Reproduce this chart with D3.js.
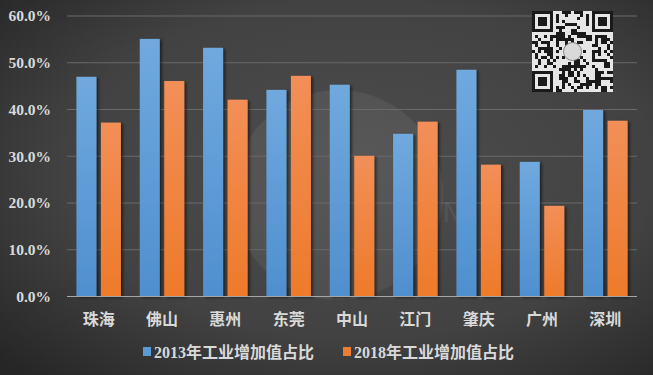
<!DOCTYPE html>
<html>
<head>
<meta charset="utf-8">
<script src="https://cdn.jsdelivr.net/npm/d3@7"></script>
<style>
    body { margin: 0; background: #333; }
    svg { display: block; }
    .tick-label { font-family: "Liberation Serif", "Times New Roman", serif; font-weight: bold; fill: #d9d9d9; }
    .cat-label { font-family: "Noto Sans CJK SC", serif; font-weight: bold; fill: #d9d9d9; }
    .legend-label { font-family: "Liberation Serif", "Noto Sans CJK SC", serif; font-weight: bold; fill: #d9d9d9; }
</style>
</head>
<body>
<svg id="chart" width="653" height="375"></svg>
<script>

const cities = ["珠海", "佛山", "惠州", "东莞", "中山", "江门", "肇庆", "广州", "深圳"];
const share2013 = [47.0, 55.1, 53.2, 44.2, 45.3, 34.8, 48.5, 28.8, 39.9];
const share2018 = [37.2, 46.1, 42.1, 47.2, 30.1, 37.4, 28.2, 19.4, 37.6];
const seriesNames = ["2013年工业增加值占比", "2018年工业增加值占比"];
const yTicks = [0, 10, 20, 30, 40, 50, 60];

const svg = d3.select("#chart");
const width = 653, height = 375;
const margin = {left: 67, right: 16, top: 16, bottom: 78};

let defs = svg.append("defs");

let bg = defs.append("radialGradient")
    .attr("id", "bg")
    .attr("cx", "0.55").attr("cy", "0.45").attr("r", "0.75");
bg.append("stop").attr("offset", "0").attr("stop-color", "#4d4d4d");
bg.append("stop").attr("offset", "0.6").attr("stop-color", "#424242");
bg.append("stop").attr("offset", "1").attr("stop-color", "#262626");

let makeBarGrad = (id, top, bottom) => {
    let g = defs.append("linearGradient")
        .attr("id", id)
        .attr("x1", 0).attr("y1", 0).attr("x2", 0).attr("y2", 1);
    g.append("stop").attr("offset", "0").attr("stop-color", top);
    g.append("stop").attr("offset", "1").attr("stop-color", bottom);
};
makeBarGrad("blue", "#70a9de", "#4f8fcf");
makeBarGrad("orange", "#f28f58", "#ee7a2a");

let shadow = defs.append("filter")
    .attr("id", "shadow")
    .attr("x", "-30%").attr("y", "-10%").attr("width", "170%").attr("height", "130%");
shadow.append("feDropShadow")
    .attr("dx", 2).attr("dy", 1).attr("stdDeviation", 1.6)
    .attr("flood-color", "#000").attr("flood-opacity", 0.55);

svg.append("rect")
    .attr("width", width).attr("height", height)
    .attr("fill", "url(#bg)");

// faint watermark logo
let wm = svg.append("g").attr("opacity", 0.06);
wm.append("circle")
    .attr("cx", 338).attr("cy", 195).attr("r", 105)
    .attr("fill", "#ffffff");
wm.append("text")
    .attr("x", 338).attr("y", 190)
    .attr("text-anchor", "middle")
    .style("font-family", "DejaVu Sans").style("font-size", "26px").style("letter-spacing", "14px")
    .attr("fill", "#ffffff")
    .text("URBAN");
wm.append("text")
    .attr("x", 338).attr("y", 222)
    .attr("text-anchor", "middle")
    .style("font-family", "DejaVu Sans").style("font-size", "26px").style("letter-spacing", "14px")
    .attr("fill", "#ffffff")
    .text("EVOLUTION");

const x = d3.scaleBand()
    .domain(cities)
    .range([margin.left, width - margin.right]);

const y = d3.scaleLinear()
    .domain([0, 60])
    .range([height - margin.bottom - 0.5, margin.top]);

// gridlines
svg.append("g")
    .selectAll("line")
    .data(yTicks.filter(d => d > 0))
    .enter()
    .append("line")
        .attr("x1", margin.left).attr("x2", width - margin.right)
        .attr("y1", d => y(d)).attr("y2", d => y(d))
        .attr("stroke", "#6a6a6a").attr("stroke-width", 1);

// y labels
let yAxis = svg.append("g")
    .attr("transform", `translate(${margin.left - 16},0)`)
    .call(d3.axisLeft(y).tickValues(yTicks).tickSize(0).tickFormat(d => d3.format(".1f")(d) + "%"));
yAxis.select(".domain").remove();
yAxis.selectAll("text")
    .attr("class", "tick-label")
    .attr("x", 0)
    .style("font-size", "15.5px");

// bars
const barW = 20, gap = 4.5;
const series = [share2013, share2018];
const fills = ["url(#blue)", "url(#orange)"];

series.forEach((values, s) => {
    svg.append("g")
        .attr("filter", "url(#shadow)")
        .selectAll("rect")
        .data(values)
        .enter()
        .append("rect")
            .attr("x", (d, i) => x(cities[i]) + x.bandwidth() / 2 + (s === 0 ? -gap / 2 - barW : gap / 2))
            .attr("y", d => y(d))
            .attr("width", barW)
            .attr("height", d => y(0) - y(d))
            .attr("fill", fills[s]);
});

// baseline
svg.append("line")
    .attr("x1", margin.left).attr("x2", width - margin.right)
    .attr("y1", y(0)).attr("y2", y(0))
    .attr("stroke", "#a6a6a6").attr("stroke-width", 1.2);

// category labels
svg.append("g")
    .selectAll("text")
    .data(cities)
    .enter()
    .append("text")
        .attr("class", "cat-label")
        .attr("x", d => x(d) + x.bandwidth() / 2)
        .attr("y", 325)
        .attr("text-anchor", "middle")
        .style("font-size", "16px")
        .text(d => d);

// QR code block (decorative)
let qr = svg.append("g").attr("transform", "translate(532,11)");
qr.append("rect").attr("width", 81).attr("height", 81).attr("fill", "#e6e6e6");
const cell = 81 / 27;
let modules = [];
for (let r = 0; r < 27; r++) {
    for (let c = 0; c < 27; c++) {
        let inFinder = (r < 8 && c < 8) || (r < 8 && c > 18) || (r > 18 && c < 8);
        if (inFinder) continue;
        let h = ((r * 37 + c * 91 + r * c * 13) ^ (r * 7 + c * 3)) % 7;
        if (h < 3) modules.push([r, c]);
    }
}
qr.selectAll("rect.m")
    .data(modules)
    .enter()
    .append("rect")
        .attr("class", "m")
        .attr("x", d => d[1] * cell).attr("y", d => d[0] * cell)
        .attr("width", cell).attr("height", cell)
        .attr("fill", "#1a1a1a");
[[0, 0], [0, 20], [20, 0]].forEach(([r, c]) => {
    qr.append("rect").attr("x", c * cell + cell / 2).attr("y", r * cell + cell / 2)
        .attr("width", cell * 6).attr("height", cell * 6)
        .attr("fill", "none").attr("stroke", "#1a1a1a").attr("stroke-width", cell);
    qr.append("rect").attr("x", c * cell + cell * 2).attr("y", r * cell + cell * 2)
        .attr("width", cell * 3).attr("height", cell * 3)
        .attr("fill", "#1a1a1a");
});
qr.append("circle").attr("cx", 40.5).attr("cy", 40.5).attr("r", 9)
    .attr("fill", "#d9d9d9").attr("stroke", "#888");

// legend
const legendX = [143, 343];
const legendColors = ["#5b9bd5", "#ed7d31"];
seriesNames.forEach((name, i) => {
    let g = svg.append("g").attr("transform", `translate(${legendX[i]},352)`);
    g.append("rect")
        .attr("x", 0).attr("y", -5)
        .attr("width", 8).attr("height", 9)
        .attr("fill", legendColors[i]);
    g.append("text")
        .attr("class", "legend-label")
        .attr("x", 11).attr("y", 6)
        .style("font-size", "16px")
        .text(name);
});

</script>
</body>
</html>
